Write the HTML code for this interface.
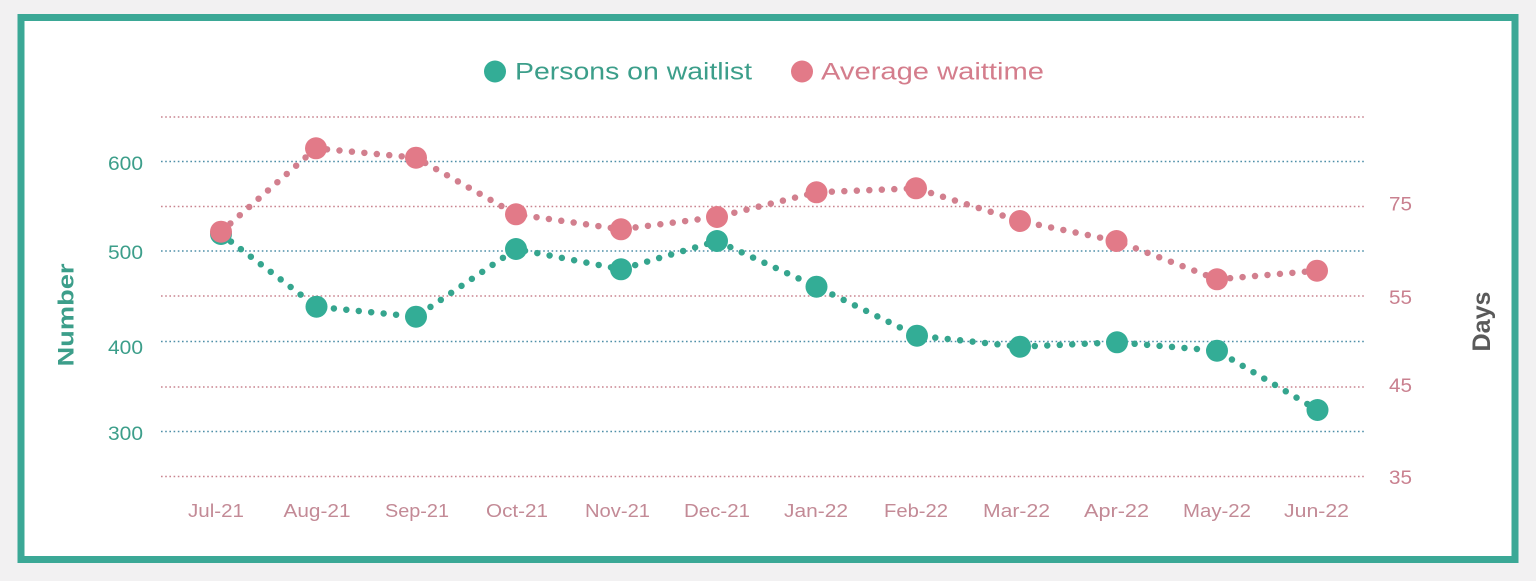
<!DOCTYPE html>
<html>
<head>
<meta charset="utf-8">
<style>
html,body{margin:0;padding:0;background:#f2f1f2;}
svg{display:block;}
text{font-family:"Liberation Sans",Arial,sans-serif;}
</style>
</head>
<body>
<svg width="1536" height="581" viewBox="0 0 1536 581" xmlns="http://www.w3.org/2000/svg">
  <rect x="0" y="0" width="1536" height="581" fill="#f2f1f2"/>
  <rect x="21" y="17.5" width="1494" height="542" fill="#ffffff" stroke="#3ba896" stroke-width="7"/>

  <!-- gridlines -->
  <g stroke-width="1.6" stroke-dasharray="1.6 2.6" fill="none">
    <line x1="161" y1="117" x2="1366" y2="117" stroke="#c9848f"/>
    <line x1="161" y1="161.5" x2="1366" y2="161.5" stroke="#4f8fa8"/>
    <line x1="161" y1="206.5" x2="1366" y2="206.5" stroke="#c9848f"/>
    <line x1="161" y1="251" x2="1366" y2="251" stroke="#4f8fa8"/>
    <line x1="161" y1="296" x2="1366" y2="296" stroke="#c9848f"/>
    <line x1="161" y1="341.5" x2="1366" y2="341.5" stroke="#4f8fa8"/>
    <line x1="161" y1="387" x2="1366" y2="387" stroke="#c9848f"/>
    <line x1="161" y1="431.5" x2="1366" y2="431.5" stroke="#4f8fa8"/>
    <line x1="161" y1="476.5" x2="1366" y2="476.5" stroke="#c9848f"/>
  </g>

  <!-- legend -->
  <circle cx="495" cy="71.5" r="11" fill="#33ad96"/>
  <text x="515" y="79.5" font-size="24" fill="#3c9e8a" textLength="237" lengthAdjust="spacingAndGlyphs">Persons on waitlist</text>
  <circle cx="802" cy="71.5" r="11" fill="#e27a88"/>
  <text x="821" y="79.5" font-size="24" fill="#d47d8c" textLength="223" lengthAdjust="spacingAndGlyphs">Average waittime</text>

  <!-- left axis labels -->
  <g font-size="19" fill="#3c9e8a" text-anchor="end">
    <text x="143" y="170" textLength="35" lengthAdjust="spacingAndGlyphs">600</text>
    <text x="143" y="259" textLength="35" lengthAdjust="spacingAndGlyphs">500</text>
    <text x="143" y="354" textLength="35" lengthAdjust="spacingAndGlyphs">400</text>
    <text x="143" y="440" textLength="35" lengthAdjust="spacingAndGlyphs">300</text>
  </g>
  <text transform="translate(73.5,315) rotate(-90)" font-size="22" font-weight="bold" fill="#3c9e8a" text-anchor="middle" textLength="103" lengthAdjust="spacingAndGlyphs">Number</text>

  <!-- right axis labels -->
  <g font-size="19" fill="#c9808f">
    <text x="1389" y="210.5" textLength="23" lengthAdjust="spacingAndGlyphs">75</text>
    <text x="1389" y="304" textLength="23" lengthAdjust="spacingAndGlyphs">55</text>
    <text x="1389" y="392" textLength="23" lengthAdjust="spacingAndGlyphs">45</text>
    <text x="1389" y="484" textLength="23" lengthAdjust="spacingAndGlyphs">35</text>
  </g>
  <text transform="translate(1490,321.5) rotate(-90)" font-size="25" font-weight="bold" fill="#5a5a5a" text-anchor="middle" textLength="60" lengthAdjust="spacingAndGlyphs">Days</text>

  <!-- x labels -->
  <g font-size="18" fill="#c38a96" text-anchor="middle">
    <text x="216" y="517" textLength="56" lengthAdjust="spacingAndGlyphs">Jul-21</text>
    <text x="317" y="517" textLength="67" lengthAdjust="spacingAndGlyphs">Aug-21</text>
    <text x="417" y="517" textLength="64" lengthAdjust="spacingAndGlyphs">Sep-21</text>
    <text x="517" y="517" textLength="62" lengthAdjust="spacingAndGlyphs">Oct-21</text>
    <text x="617.5" y="517" textLength="65" lengthAdjust="spacingAndGlyphs">Nov-21</text>
    <text x="717" y="517" textLength="66" lengthAdjust="spacingAndGlyphs">Dec-21</text>
    <text x="816" y="517" textLength="64" lengthAdjust="spacingAndGlyphs">Jan-22</text>
    <text x="916" y="517" textLength="64" lengthAdjust="spacingAndGlyphs">Feb-22</text>
    <text x="1016.5" y="517" textLength="67" lengthAdjust="spacingAndGlyphs">Mar-22</text>
    <text x="1116.5" y="517" textLength="65" lengthAdjust="spacingAndGlyphs">Apr-22</text>
    <text x="1217" y="517" textLength="68" lengthAdjust="spacingAndGlyphs">May-22</text>
    <text x="1316.5" y="517" textLength="65" lengthAdjust="spacingAndGlyphs">Jun-22</text>
  </g>

  <!-- teal series -->
  <polyline fill="none" stroke="#35a58e" stroke-width="6.5" stroke-linecap="round" stroke-dasharray="0 12.5"
    points="221,234 316.5,306.7 416,316.7 516,249 621,269.3 717,241 816.5,286.7 917,335.7 1020,346.7 1117,342.3 1217,350.7 1317.5,410"/>
  <g fill="#33ad96">
    <circle cx="221" cy="234" r="11"/>
    <circle cx="316.5" cy="306.7" r="11"/>
    <circle cx="416" cy="316.7" r="11"/>
    <circle cx="516" cy="249" r="11"/>
    <circle cx="621" cy="269.3" r="11"/>
    <circle cx="717" cy="241" r="11"/>
    <circle cx="816.5" cy="286.7" r="11"/>
    <circle cx="917" cy="335.7" r="11"/>
    <circle cx="1020" cy="346.7" r="11"/>
    <circle cx="1117" cy="342.3" r="11"/>
    <circle cx="1217" cy="350.7" r="11"/>
    <circle cx="1317.5" cy="410" r="11"/>
  </g>

  <!-- red series -->
  <polyline fill="none" stroke="#d27f8e" stroke-width="6.5" stroke-linecap="round" stroke-dasharray="0 12.5"
    points="221,231.7 316,148.3 416,157.7 516,214.3 621,229.3 717,217 816.5,192.3 916,188.3 1020,221 1116.5,241 1217,279.3 1317,270.7"/>
  <g fill="#e27a88">
    <circle cx="221" cy="231.7" r="11"/>
    <circle cx="316" cy="148.3" r="11"/>
    <circle cx="416" cy="157.7" r="11"/>
    <circle cx="516" cy="214.3" r="11"/>
    <circle cx="621" cy="229.3" r="11"/>
    <circle cx="717" cy="217" r="11"/>
    <circle cx="816.5" cy="192.3" r="11"/>
    <circle cx="916" cy="188.3" r="11"/>
    <circle cx="1020" cy="221" r="11"/>
    <circle cx="1116.5" cy="241" r="11"/>
    <circle cx="1217" cy="279.3" r="11"/>
    <circle cx="1317" cy="270.7" r="11"/>
  </g>
</svg>
</body>
</html>
